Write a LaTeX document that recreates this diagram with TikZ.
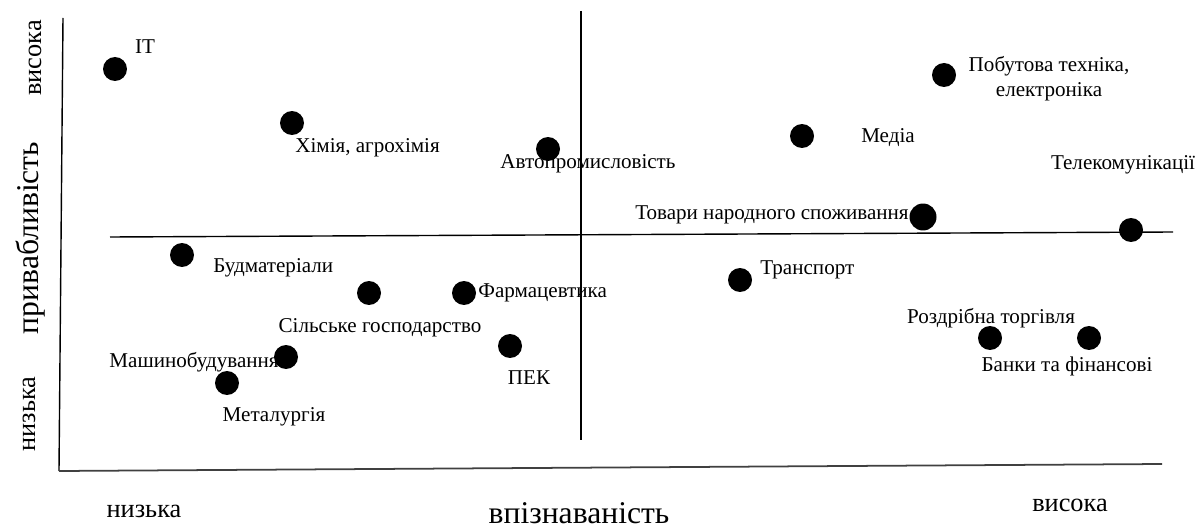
\documentclass[tikz,border=0pt]{standalone}
\usepackage{fontspec}
\setmainfont{Liberation Serif}
\usepackage{tikz}
\usetikzlibrary{calc, positioning}

\tikzset{
    sector/.style={circle, fill=black, inner sep=0pt, minimum size=0.48cm},
    lbl/.style={inner sep=0pt, font=\fontsize{12}{14}\selectfont},
    axlbl/.style={inner sep=0pt, font=\fontsize{15}{17}\selectfont},
    axname/.style={inner sep=0pt, font=\fontsize{18}{20}\selectfont}
}

\begin{document}
\begin{tikzpicture}[x=0.02cm, y=-0.02cm]
    \useasboundingbox (0,0) rectangle (1200,530);

    \coordinate (ytop) at (63,18);
    \coordinate (orig) at (59,471);
    \coordinate (xend) at (1162,464);
    \coordinate (hl) at (110,237);
    \coordinate (hr) at (1173,232);
    \coordinate (vt) at (581,11);
    \coordinate (vb) at (581,440);
    \draw[line width=0.8pt] (ytop) -- (orig);
    \draw[line width=1pt, black!75] (orig) -- (xend);
    \draw[line width=0.8pt] (hl) -- (hr);
    \draw[line width=0.8pt] (vt) -- (vb);

    \node[axlbl, rotate=90] (yhi) at (35,58) {висока};
    \node[axname, rotate=90] (yname) at (31,238) {привабливість};
    \node[axlbl, rotate=90] (ylo) at (29,414) {низька};
    \node[axlbl] (xlo) at (144,511) {низька};
    \node[axname] (xname) at (579,513) {впізнаваність};
    \node[axlbl] (xhi) at (1070,505) {висока};

    \node[sector] (it) at (115,69) {};
    \node[sector] (chem) at (292,123) {};
    \node[sector] (auto) at (548,149) {};
    \node[sector] (media) at (802,136) {};
    \node[sector] (appl) at (944,75) {};
    \node[sector] (tel) at (1131,230) {};
    \node[sector, minimum height=0.54cm] (goods) at (923,217) {};
    \node[sector] (build) at (182,255) {};
    \node[sector] (agri) at (369,293) {};
    \node[sector] (pharm) at (464,293) {};
    \node[sector] (fuel) at (510,346) {};
    \node[sector] (mach) at (286,357) {};
    \node[sector] (metal) at (227,383) {};
    \node[sector] (trans) at (740,280) {};
    \node[sector] (retail) at (990,338) {};
    \node[sector] (bank) at (1089,338) {};

    \node[lbl] (it-l) at (145,47) {IT};
    \node[lbl, anchor=west] (chem-l) at (295,148) {Хімія, агрохімія};
    \node[lbl] (auto-l) at (588,164) {Автопромисловість};
    \node[lbl] (media-l) at (888,138) {Медіа};
    \node[lbl, align=center] (appl-l) at (1049,79) {Побутова техніка,\\електроніка};
    \node[lbl] (tel-l) at (1123,165) {Телекомунікації};
    \node[lbl, anchor=east] (goods-l) at (909,215) {Товари народного споживання};
    \node[lbl, anchor=west] (build-l) at (213,268) {Будматеріали};
    \node[lbl] (agri-l) at (380,328) {Сільське господарство};
    \node[lbl, anchor=west] (pharm-l) at (478,293) {Фармацевтика};
    \node[lbl] (fuel-l) at (529,378) {ПЕК};
    \node[lbl, anchor=east] (mach-l) at (279,362) {Машинобудування};
    \node[lbl] (metal-l) at (274,417) {Металургія};
    \node[lbl, anchor=west] (trans-l) at (760,270) {Транспорт};
    \node[lbl] (retail-l) at (991,318) {Роздрібна торгівля};
    \node[lbl] (bank-l) at (1067,366) {Банки та фінансові};
\end{tikzpicture}
\end{document}
